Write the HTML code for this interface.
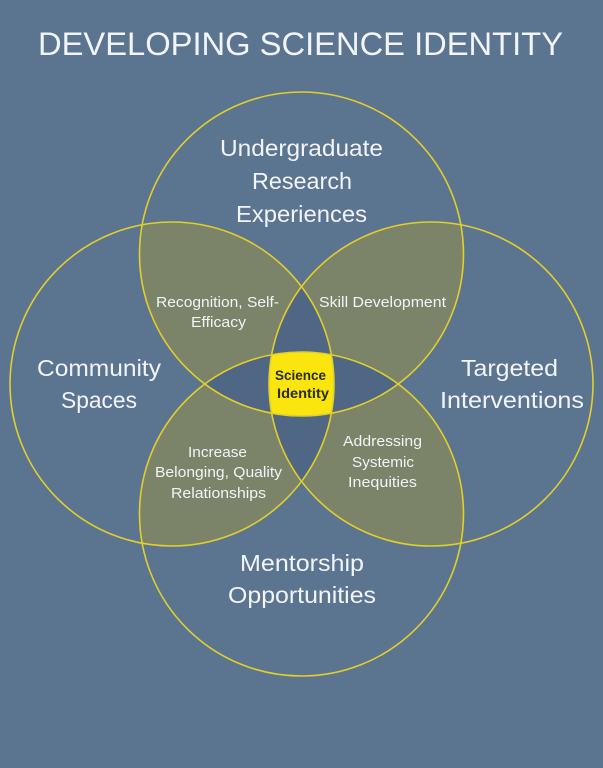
<!DOCTYPE html>
<html>
<head>
<meta charset="utf-8">
<style>
  html, body { margin: 0; padding: 0; background: #5b7591; }
  svg { display: block; }
  text { font-family: "Liberation Sans", "DejaVu Sans", sans-serif; fill: #f2f4f7; }
</style>
</head>
<body>
<svg width="603" height="768" viewBox="0 0 603 768" xmlns="http://www.w3.org/2000/svg">
  <defs>
    <clipPath id="cT"><circle cx="301.5" cy="254" r="162"/></clipPath>
    <clipPath id="cB"><circle cx="301.5" cy="514" r="162"/></clipPath>
    <clipPath id="cL"><circle cx="172" cy="384" r="162"/></clipPath>
    <clipPath id="cR"><circle cx="431" cy="384" r="162"/></clipPath>
  </defs>

  <rect x="0" y="0" width="603" height="768" fill="#5b7591"/>

  <!-- adjacent pair overlaps (olive) -->
  <g clip-path="url(#cT)">
    <circle cx="172" cy="384" r="162" fill="#7b8369"/>
    <circle cx="431" cy="384" r="162" fill="#7b8369"/>
  </g>
  <g clip-path="url(#cB)">
    <circle cx="172" cy="384" r="162" fill="#7b8369"/>
    <circle cx="431" cy="384" r="162" fill="#7b8369"/>
  </g>

  <!-- opposite pair overlaps (dark blue) -->
  <g clip-path="url(#cL)">
    <circle cx="431" cy="384" r="162" fill="#4f6784"/>
  </g>
  <g clip-path="url(#cT)">
    <circle cx="301.5" cy="514" r="162" fill="#4f6784"/>
  </g>

  <!-- four-way intersection (yellow) -->
  <g clip-path="url(#cT)">
    <g clip-path="url(#cB)">
      <g clip-path="url(#cL)">
        <circle cx="431" cy="384" r="162" fill="#fae60e"/>
      </g>
    </g>
  </g>

  <!-- circle outlines -->
  <g fill="none" stroke="#e2cf2c" stroke-width="1.6">
    <circle cx="301.5" cy="254" r="162"/>
    <circle cx="301.5" cy="514" r="162"/>
    <circle cx="172" cy="384" r="162"/>
    <circle cx="431" cy="384" r="162"/>
  </g>

  <!-- title -->
  <text x="38" y="55" font-size="32" textLength="525" lengthAdjust="spacingAndGlyphs">DEVELOPING SCIENCE IDENTITY</text>

  <!-- main labels -->
  <g font-size="23">
    <text x="220" y="156" textLength="163" lengthAdjust="spacingAndGlyphs">Undergraduate</text>
    <text x="252" y="189" textLength="100" lengthAdjust="spacingAndGlyphs">Research</text>
    <text x="236" y="222" textLength="131" lengthAdjust="spacingAndGlyphs">Experiences</text>

    <text x="37" y="376" textLength="124" lengthAdjust="spacingAndGlyphs">Community</text>
    <text x="61" y="408" textLength="76" lengthAdjust="spacingAndGlyphs">Spaces</text>

    <text x="461" y="376" textLength="97" lengthAdjust="spacingAndGlyphs">Targeted</text>
    <text x="440" y="408" textLength="144" lengthAdjust="spacingAndGlyphs">Interventions</text>

    <text x="240" y="571" textLength="124" lengthAdjust="spacingAndGlyphs">Mentorship</text>
    <text x="228" y="603" textLength="148" lengthAdjust="spacingAndGlyphs">Opportunities</text>
  </g>

  <!-- overlap labels -->
  <g font-size="15">
    <text x="156" y="307" textLength="123" lengthAdjust="spacingAndGlyphs">Recognition, Self-</text>
    <text x="191" y="327" textLength="55" lengthAdjust="spacingAndGlyphs">Efficacy</text>

    <text x="319" y="307" textLength="127" lengthAdjust="spacingAndGlyphs">Skill Development</text>

    <text x="188" y="457" textLength="59" lengthAdjust="spacingAndGlyphs">Increase</text>
    <text x="155" y="477" textLength="127" lengthAdjust="spacingAndGlyphs">Belonging, Quality</text>
    <text x="171" y="498" textLength="95" lengthAdjust="spacingAndGlyphs">Relationships</text>

    <text x="343" y="446" textLength="79" lengthAdjust="spacingAndGlyphs">Addressing</text>
    <text x="352" y="467" textLength="62" lengthAdjust="spacingAndGlyphs">Systemic</text>
    <text x="348" y="487" textLength="69" lengthAdjust="spacingAndGlyphs">Inequities</text>
  </g>

  <!-- center label -->
  <g font-size="14" font-weight="bold">
    <text x="275" y="380" textLength="51" lengthAdjust="spacingAndGlyphs" style="fill:#2b2a16">Science</text>
    <text x="277" y="398" textLength="52" lengthAdjust="spacingAndGlyphs" style="fill:#2b2a16">Identity</text>
  </g>
</svg>
</body>
</html>
